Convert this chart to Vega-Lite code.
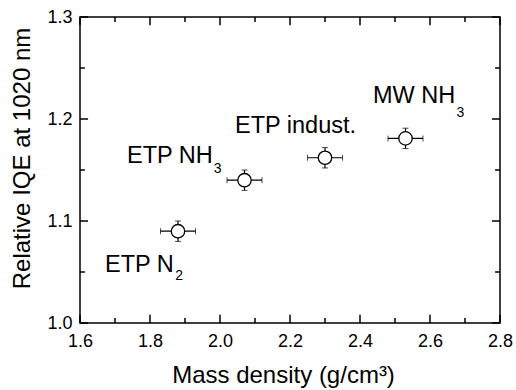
{
  "$schema": "https://vega.github.io/schema/vega-lite/v6.json",
  "width": 420,
  "height": 306,
  "autosize": "none",
  "padding": {"left": 80, "top": 17, "right": 16, "bottom": 67},
  "background": "white",
  "config": {
    "view": {"stroke": "black", "strokeWidth": 1.5},
    "font": "Liberation Sans",
    "axis": {
      "domain": false, "grid": false, "ticks": false, "labelColor": "black",
      "titleColor": "black", "labelFont": "Liberation Sans", "titleFont": "Liberation Sans",
      "labelFontSize": 18, "titleFontSize": 24, "titleFontWeight": "normal",
      "labelFlush": false, "labelOverlap": false
    }
  },
  "datasets": {
    "pts": [
      {"density": 1.88, "iqe": 1.09, "xe": 0.05, "ye": 0.01},
      {"density": 2.07, "iqe": 1.14, "xe": 0.05, "ye": 0.01},
      {"density": 2.30, "iqe": 1.162, "xe": 0.05, "ye": 0.01},
      {"density": 2.53, "iqe": 1.181, "xe": 0.05, "ye": 0.01}
    ],
    "labels": [
      {"text": "ETP N", "lx": 1.6714, "ly": 1.050, "sub": "2", "sx": 1.872, "sy": 1.042},
      {"text": "ETP NH", "lx": 1.7343, "ly": 1.1569, "sub": "3", "sx": 1.982, "sy": 1.147},
      {"text": "ETP indust.", "lx": 2.0429, "ly": 1.1863, "sub": "", "sx": 2.3, "sy": 1.186},
      {"text": "MW NH", "lx": 2.4371, "ly": 1.2157, "sub": "3", "sx": 2.676, "sy": 1.202}
    ],
    "xmajor": [{"v": 1.6}, {"v": 1.8}, {"v": 2.0}, {"v": 2.2}, {"v": 2.4}, {"v": 2.6}, {"v": 2.8}],
    "xminor": [{"v": 1.7}, {"v": 1.9}, {"v": 2.1}, {"v": 2.3}, {"v": 2.5}, {"v": 2.7}],
    "ymajor": [{"v": 1.0}, {"v": 1.1}, {"v": 1.2}, {"v": 1.3}],
    "yminor": [{"v": 1.05}, {"v": 1.15}, {"v": 1.25}]
  },
  "layer": [
    {
      "data": {"name": "pts"},
      "mark": {"type": "errorbar", "ticks": {"size": 6, "color": "black", "strokeWidth": 1.2}, "rule": {"color": "black", "strokeWidth": 1.2}},
      "encoding": {
        "x": {"field": "density", "type": "quantitative", "title": "Mass density (g/cm³)", "scale": {"domain": [1.6, 2.8], "nice": false, "zero": false},
          "axis": {"orient": "bottom", "values": [1.6, 1.8, 2.0, 2.2, 2.4, 2.6, 2.8], "format": ".1f", "labelPadding": 9, "titlePadding": 13, "titleX": 203}},
        "xError": {"field": "xe"},
        "y": {"field": "iqe", "type": "quantitative", "title": "Relative IQE at 1020 nm", "scale": {"domain": [1.0, 1.3], "nice": false, "zero": false},
          "axis": {"orient": "left", "values": [1.0, 1.1, 1.2, 1.3], "format": ".1f", "labelPadding": 8, "titlePadding": 12, "titleY": 141}}
      }
    },
    {
      "data": {"name": "pts"},
      "mark": {"type": "errorbar", "ticks": {"size": 6, "color": "black", "strokeWidth": 1.2}, "rule": {"color": "black", "strokeWidth": 1.2}},
      "encoding": {
        "x": {"field": "density", "type": "quantitative", "title": "Mass density (g/cm³)"},
        "y": {"field": "iqe", "type": "quantitative", "title": "Relative IQE at 1020 nm"},
        "yError": {"field": "ye"}
      }
    },
    {
      "data": {"name": "pts"},
      "mark": {"type": "point", "shape": "circle", "filled": true, "fill": "white", "stroke": "black", "strokeWidth": 1.3, "size": 180, "opacity": 1},
      "encoding": {
        "x": {"field": "density", "type": "quantitative", "title": "Mass density (g/cm³)"},
        "y": {"field": "iqe", "type": "quantitative", "title": "Relative IQE at 1020 nm"}
      }
    },
    {
      "data": {"name": "xmajor"},
      "mark": {"type": "rule", "color": "black", "strokeWidth": 1.5},
      "encoding": {"x": {"field": "v", "type": "quantitative", "title": "Mass density (g/cm³)"}, "y": {"datum": 1.0, "type": "quantitative", "title": "Relative IQE at 1020 nm"}, "y2": {"datum": 1.008}}
    },
    {
      "data": {"name": "xmajor"},
      "mark": {"type": "rule", "color": "black", "strokeWidth": 1.5},
      "encoding": {"x": {"field": "v", "type": "quantitative", "title": "Mass density (g/cm³)"}, "y": {"datum": 1.3, "type": "quantitative", "title": "Relative IQE at 1020 nm"}, "y2": {"datum": 1.292}}
    },
    {
      "data": {"name": "xminor"},
      "mark": {"type": "rule", "color": "black", "strokeWidth": 1.5},
      "encoding": {"x": {"field": "v", "type": "quantitative", "title": "Mass density (g/cm³)"}, "y": {"datum": 1.0, "type": "quantitative", "title": "Relative IQE at 1020 nm"}, "y2": {"datum": 1.005}}
    },
    {
      "data": {"name": "xminor"},
      "mark": {"type": "rule", "color": "black", "strokeWidth": 1.5},
      "encoding": {"x": {"field": "v", "type": "quantitative", "title": "Mass density (g/cm³)"}, "y": {"datum": 1.3, "type": "quantitative", "title": "Relative IQE at 1020 nm"}, "y2": {"datum": 1.295}}
    },
    {
      "data": {"name": "ymajor"},
      "mark": {"type": "rule", "color": "black", "strokeWidth": 1.5},
      "encoding": {"y": {"field": "v", "type": "quantitative", "title": "Relative IQE at 1020 nm"}, "x": {"datum": 1.6, "type": "quantitative", "title": "Mass density (g/cm³)"}, "x2": {"datum": 1.623}}
    },
    {
      "data": {"name": "ymajor"},
      "mark": {"type": "rule", "color": "black", "strokeWidth": 1.5},
      "encoding": {"y": {"field": "v", "type": "quantitative", "title": "Relative IQE at 1020 nm"}, "x": {"datum": 2.8, "type": "quantitative", "title": "Mass density (g/cm³)"}, "x2": {"datum": 2.777}}
    },
    {
      "data": {"name": "yminor"},
      "mark": {"type": "rule", "color": "black", "strokeWidth": 1.5},
      "encoding": {"y": {"field": "v", "type": "quantitative", "title": "Relative IQE at 1020 nm"}, "x": {"datum": 1.6, "type": "quantitative", "title": "Mass density (g/cm³)"}, "x2": {"datum": 1.614}}
    },
    {
      "data": {"name": "yminor"},
      "mark": {"type": "rule", "color": "black", "strokeWidth": 1.5},
      "encoding": {"y": {"field": "v", "type": "quantitative", "title": "Relative IQE at 1020 nm"}, "x": {"datum": 2.8, "type": "quantitative", "title": "Mass density (g/cm³)"}, "x2": {"datum": 2.786}}
    },
    {
      "data": {"name": "labels"},
      "mark": {"type": "text", "align": "left", "baseline": "alphabetic", "fontSize": 23.5, "font": "Liberation Sans", "color": "black"},
      "encoding": {
        "x": {"field": "lx", "type": "quantitative", "title": "Mass density (g/cm³)"},
        "y": {"field": "ly", "type": "quantitative", "title": "Relative IQE at 1020 nm"},
        "text": {"field": "text"}
      }
    },
    {
      "data": {"name": "labels"},
      "mark": {"type": "text", "align": "left", "baseline": "alphabetic", "fontSize": 14, "font": "Liberation Sans", "color": "black"},
      "encoding": {
        "x": {"field": "sx", "type": "quantitative", "title": "Mass density (g/cm³)"},
        "y": {"field": "sy", "type": "quantitative", "title": "Relative IQE at 1020 nm"},
        "text": {"field": "sub"}
      }
    }
  ]
}
